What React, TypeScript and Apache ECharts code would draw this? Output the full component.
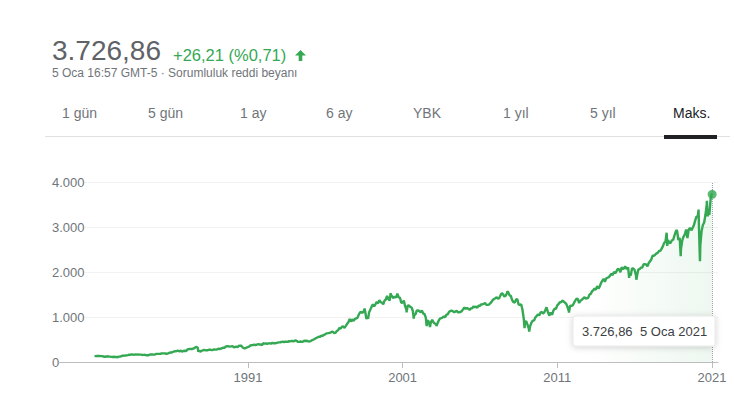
import React, { useEffect, useRef } from "react";
import * as echarts from "echarts";

// Monthly closes (S&P 500 style index)
const closes1981to1990 = [
  129.55, 131.27, 136.0, 132.81, 132.59, 131.21, 130.92, 122.79, 116.18, 121.89, 126.35, 122.55,
  120.4, 113.11, 111.96, 116.44, 111.88, 109.61, 107.09, 119.51, 120.42, 133.71, 138.54, 140.64,
  145.3, 148.06, 152.96, 164.42, 162.39, 168.11, 162.56, 164.4, 166.07, 163.55, 166.4, 164.93,
  163.41, 157.06, 159.18, 160.05, 150.55, 153.18, 150.66, 166.68, 166.1, 166.09, 163.58, 167.24,
  179.63, 181.18, 180.66, 179.83, 189.55, 191.85, 190.92, 188.63, 182.08, 189.82, 202.17, 211.28,
  211.78, 226.92, 238.9, 235.52, 247.35, 250.84, 236.12, 252.93, 231.32, 243.98, 249.22, 242.17,
  274.08, 284.2, 291.7, 288.36, 290.1, 304.0, 318.66, 329.8, 321.83, 251.79, 230.3, 247.08,
  257.07, 267.82, 258.89, 261.33, 262.16, 273.5, 272.02, 261.52, 271.91, 278.97, 273.7, 277.72,
  297.47, 288.86, 294.87, 309.64, 320.52, 317.98, 346.08, 351.45, 349.15, 340.36, 345.99, 353.4,
  329.08, 331.89, 339.94, 330.8, 361.23, 358.02, 356.15, 322.56, 306.05, 304.0, 322.22, 330.22,
];
const closes1991to2000 = [
  343.93, 367.07, 375.22, 375.34, 389.83, 371.16, 387.81, 395.43, 387.86, 392.46, 375.22, 417.09,
  408.79, 412.7, 403.69, 414.95, 415.35, 408.14, 424.21, 414.03, 417.8, 418.68, 431.35, 435.71,
  438.78, 443.38, 451.67, 440.19, 450.19, 450.53, 448.13, 463.56, 458.93, 467.83, 461.79, 466.45,
  481.61, 467.14, 445.77, 450.91, 456.5, 444.27, 458.26, 475.49, 462.69, 472.35, 453.69, 459.27,
  470.42, 487.39, 500.71, 514.71, 533.4, 544.75, 562.06, 561.88, 584.41, 581.5, 605.37, 615.93,
  636.02, 640.43, 645.5, 654.17, 669.12, 670.63, 639.95, 651.99, 687.33, 705.27, 757.02, 740.74,
  786.16, 790.82, 757.12, 801.34, 848.28, 885.14, 954.29, 899.47, 947.28, 914.62, 955.4, 970.43,
  980.28, 1049.34, 1101.75, 1111.75, 1090.82, 1133.84, 1120.67, 957.28, 1017.01, 1098.67, 1163.63, 1229.23,
  1279.64, 1238.33, 1286.37, 1335.18, 1301.84, 1372.71, 1328.72, 1320.41, 1282.71, 1362.93, 1388.91, 1469.25,
  1394.46, 1366.42, 1498.58, 1452.43, 1420.6, 1454.6, 1430.83, 1517.68, 1436.51, 1429.4, 1315.23, 1320.28,
];
const closes2001to2010 = [
  1366.01, 1239.94, 1160.33, 1249.46, 1255.82, 1224.42, 1211.23, 1133.58, 1040.94, 1059.78, 1139.45, 1148.08,
  1130.2, 1106.73, 1147.39, 1076.92, 1067.14, 989.82, 911.62, 916.07, 815.28, 885.76, 936.31, 879.82,
  855.7, 841.15, 848.18, 916.92, 963.59, 974.5, 990.31, 1008.01, 995.97, 1050.71, 1058.2, 1111.92,
  1131.13, 1144.94, 1126.21, 1107.3, 1120.68, 1140.84, 1101.72, 1104.24, 1114.58, 1130.2, 1173.82, 1211.92,
  1181.27, 1203.6, 1180.59, 1156.85, 1191.5, 1191.33, 1234.18, 1220.33, 1228.81, 1207.01, 1249.48, 1248.29,
  1280.08, 1280.66, 1294.83, 1310.61, 1270.09, 1270.2, 1276.66, 1303.82, 1335.85, 1377.94, 1400.63, 1418.3,
  1438.24, 1406.82, 1420.86, 1482.37, 1530.62, 1503.35, 1455.27, 1473.99, 1526.75, 1549.38, 1481.14, 1468.36,
  1378.55, 1330.63, 1322.7, 1385.59, 1400.38, 1280.0, 1267.38, 1282.83, 1166.36, 968.75, 896.24, 903.25,
  825.88, 735.09, 797.87, 872.81, 919.14, 919.32, 987.48, 1020.62, 1057.08, 1036.19, 1095.63, 1115.1,
  1073.87, 1104.49, 1169.43, 1186.69, 1089.41, 1030.71, 1101.6, 1049.33, 1141.2, 1183.26, 1180.55, 1257.64,
];
const closes2011to2020 = [
  1286.12, 1327.22, 1325.83, 1363.61, 1345.2, 1320.64, 1292.28, 1218.89, 1131.42, 1253.3, 1246.96, 1257.6,
  1312.41, 1365.68, 1408.47, 1397.91, 1310.33, 1362.16, 1379.32, 1406.58, 1440.67, 1412.16, 1416.18, 1426.19,
  1498.11, 1514.68, 1569.19, 1597.57, 1630.74, 1606.28, 1685.73, 1632.97, 1681.55, 1756.54, 1805.81, 1848.36,
  1782.59, 1859.45, 1872.34, 1883.95, 1923.57, 1960.23, 1930.67, 2003.37, 1972.29, 2018.05, 2067.56, 2058.9,
  1994.99, 2104.5, 2067.89, 2085.51, 2107.39, 2063.11, 2103.84, 1972.18, 1920.03, 2079.36, 2080.41, 2043.94,
  1940.24, 1932.23, 2059.74, 2065.3, 2096.95, 2098.86, 2173.6, 2170.95, 2168.27, 2126.15, 2198.81, 2238.83,
  2278.87, 2363.64, 2362.72, 2384.2, 2411.8, 2423.41, 2470.3, 2471.65, 2519.36, 2575.26, 2647.58, 2673.61,
  2823.81, 2713.83, 2640.87, 2648.05, 2705.27, 2718.37, 2816.29, 2901.52, 2913.98, 2711.74, 2760.17, 2506.85,
  2704.1, 2784.49, 2834.4, 2945.83, 2752.06, 2941.76, 2980.38, 2926.46, 2976.74, 3037.56, 3140.98, 3230.78,
  3225.52, 2954.22, 2584.59, 2912.43, 3044.31, 3100.29, 3271.12, 3500.31, 3363.0, 3269.96, 3621.63, 3756.07,
];
// Intra-month highs and lows visible as spikes in the line
const spikeDates = [
  "1982-08-12", "1987-08-25", "1987-10-19", "1987-12-04", "1990-07-16", "1990-10-11",
  "1998-07-17", "1998-10-08", "2000-03-24", "2000-09-01", "2001-04-04", "2001-09-21",
  "2002-07-23", "2002-10-09", "2003-03-11", "2007-10-09", "2008-11-20", "2009-03-09",
  "2010-04-23", "2010-07-02", "2011-04-29", "2011-10-03", "2015-05-21", "2015-08-25",
  "2016-02-11", "2018-01-26", "2018-02-08", "2018-09-20", "2018-12-24", "2019-06-03",
  "2020-02-19", "2020-03-23", "2020-09-02", "2020-09-23",
];
const spikeValues = [
  102.42, 336.77, 224.84, 223.92, 368.95, 295.46,
  1186.75, 959.44, 1527.46, 1520.77, 1103.25, 965.8,
  797.7, 776.76, 800.73, 1565.15, 752.44, 676.53,
  1217.28, 1022.58, 1363.61, 1099.23, 2130.82, 1867.61,
  1829.08, 2872.87, 2581.0, 2930.75, 2351.1, 2744.45,
  3386.15, 2237.4, 3580.84, 3236.92,
];
const lastDate = "2021-01-05";
const lastValue = 3726.86;

const xTickYears = [1991, 2001, 2011, 2021];
const yTickValues = [0, 1000, 2000, 3000, 4000];
const tabLabels = ["1 gün", "5 gün", "1 ay", "6 ay", "YBK", "1 yıl", "5 yıl", "Maks."];

const priceText = "3.726,86";
const changeText = "+26,21 (%0,71)";
const subText = "5 Oca 16:57 GMT-5 · Sorumluluk reddi beyanı";
const tipValue = "3.726,86";
const tipDate = "5 Oca 2021";

// layout
const tabX = [62, 148, 240, 326, 413, 503, 590, 673];
const FONT = '"Liberation Sans", Arial, sans-serif';
const GREEN = "#34a853";

function dateToYear(s: string): number {
  const [y, m, d] = s.split("-").map(Number);
  const start = Date.UTC(y, 0, 1);
  const end = Date.UTC(y + 1, 0, 1);
  return y + (Date.UTC(y, m - 1, d) - start) / (end - start);
}

function buildPoints(): [number, number][] {
  const blocks: [number, number[]][] = [
    [1981, closes1981to1990],
    [1991, closes1991to2000],
    [2001, closes2001to2010],
    [2011, closes2011to2020],
  ];
  const pts: [number, number][] = [];
  blocks.forEach(([startYear, arr]) => {
    arr.forEach((v, i) => {
      const yr = startYear + Math.floor(i / 12);
      const m = i % 12;
      pts.push([yr + (m + 0.95) / 12, v]);
    });
  });
  spikeDates.forEach((d, i) => pts.push([dateToYear(d), spikeValues[i]]));
  pts.push([dateToYear(lastDate), lastValue]);
  pts.sort((a, b) => a[0] - b[0]);
  return pts;
}

export default function App() {
  const ref = useRef<HTMLDivElement>(null);
  useEffect(() => {
    document.body.style.margin = "0";
    if (!ref.current) return;
    const chart = echarts.init(ref.current, null, { renderer: "svg" });
    const points = buildPoints();
    const lastX = dateToYear(lastDate);

    const graphics: any[] = [
      {
        type: "text",
        x: 52,
        y: 50,
        style: { text: priceText, font: `28px ${FONT}`, fill: "#5f6368", align: "left", verticalAlign: "middle" },
      },
      {
        type: "text",
        x: 173,
        y: 55,
        style: { text: changeText, font: `16.5px ${FONT}`, fill: GREEN, align: "left", verticalAlign: "middle" },
      },
      {
        type: "polygon",
        shape: {
          points: [
            [300.5, 50],
            [306, 55.5],
            [302.3, 55.5],
            [302.3, 61],
            [298.7, 61],
            [298.7, 55.5],
            [295, 55.5],
          ],
        },
        style: { fill: GREEN },
      },
      {
        type: "text",
        x: 52,
        y: 72.5,
        style: { text: subText, font: `12px ${FONT}`, fill: "#70757a", align: "left", verticalAlign: "middle" },
      },
      {
        type: "line",
        shape: { x1: 45, y1: 136.5, x2: 730, y2: 136.5 },
        style: { stroke: "#e0e0e0", lineWidth: 1 },
      },
      {
        type: "rect",
        shape: { x: 664, y: 135, width: 53, height: 4 },
        style: { fill: "#202124" },
      },
      ...tabLabels.map((t, i) => ({
        type: "text",
        x: tabX[i],
        y: 113,
        style: {
          text: t,
          font: `14px ${FONT}`,
          fill: i === tabLabels.length - 1 ? "#202124" : "#70757a",
          align: "left",
          verticalAlign: "middle",
        },
      })),
      {
        type: "rect",
        z: 100,
        shape: { x: 573, y: 316, width: 142, height: 30, r: 2 },
        style: {
          fill: "#fff",
          stroke: "#e8e8e8",
          lineWidth: 1,
          shadowBlur: 6,
          shadowColor: "rgba(0,0,0,0.18)",
          shadowOffsetY: 1,
        },
      },
      {
        type: "text",
        z: 101,
        x: 582,
        y: 331,
        style: { text: tipValue, font: `13px ${FONT}`, fill: "#3c4043", align: "left", verticalAlign: "middle" },
      },
      {
        type: "text",
        z: 101,
        x: 640,
        y: 331,
        style: { text: tipDate, font: `13px ${FONT}`, fill: "#3c4043", align: "left", verticalAlign: "middle" },
      },
    ];

    chart.setOption({
      animation: false,
      backgroundColor: "#fff",
      textStyle: { fontFamily: FONT },
      grid: { left: 58, right: 16, top: 182, bottom: 35, containLabel: false },
      xAxis: {
        type: "value",
        min: 1978.72,
        max: 2021.39,
        axisLine: { show: true, lineStyle: { color: "#bdbdbd", width: 1 } },
        axisTick: { show: true, customValues: xTickYears, length: 6, lineStyle: { color: "#bdbdbd" } },
        axisLabel: {
          customValues: xTickYears,
          color: "#70757a",
          fontSize: 13,
          margin: 9,
          formatter: (v: number) => String(Math.round(v)),
        },
        splitLine: { show: false },
      },
      yAxis: {
        type: "value",
        min: 0,
        max: 4000,
        interval: 1000,
        axisLine: { show: false },
        axisTick: { show: false },
        axisLabel: {
          customValues: yTickValues,
          align: "left",
          margin: 6,
          color: "#70757a",
          fontSize: 13,
          backgroundColor: "#fff",
          formatter: (v: number) => (v === 0 ? "0" : v.toLocaleString("de-DE")),
        },
        splitLine: { show: true, lineStyle: { color: "#f2f2f2", width: 1 } },
      },
      series: [
        {
          type: "line",
          data: points,
          showSymbol: false,
          symbol: "none",
          lineStyle: { color: GREEN, width: 2.4 },
          itemStyle: { color: GREEN },
          areaStyle: {
            color: new echarts.graphic.LinearGradient(0, 0, 1, 0, [
              { offset: 0, color: "rgba(52,168,83,0)" },
              { offset: 0.8, color: "rgba(52,168,83,0)" },
              { offset: 1, color: "rgba(52,168,83,0.12)" },
            ]),
          },
          markLine: {
            silent: true,
            symbol: "none",
            label: { show: false },
            lineStyle: { type: "dotted", color: "#9aa0a6", width: 1 },
            data: [{ xAxis: lastX }],
          },
        },
        {
          type: "scatter",
          data: [[lastX, lastValue]],
          symbolSize: 9,
          itemStyle: { color: GREEN },
          z: 5,
        },
      ],
      graphic: { elements: graphics },
    });
    return () => chart.dispose();
  }, []);
  return <div ref={ref} style={{ width: 734, height: 397 }} />;
}
